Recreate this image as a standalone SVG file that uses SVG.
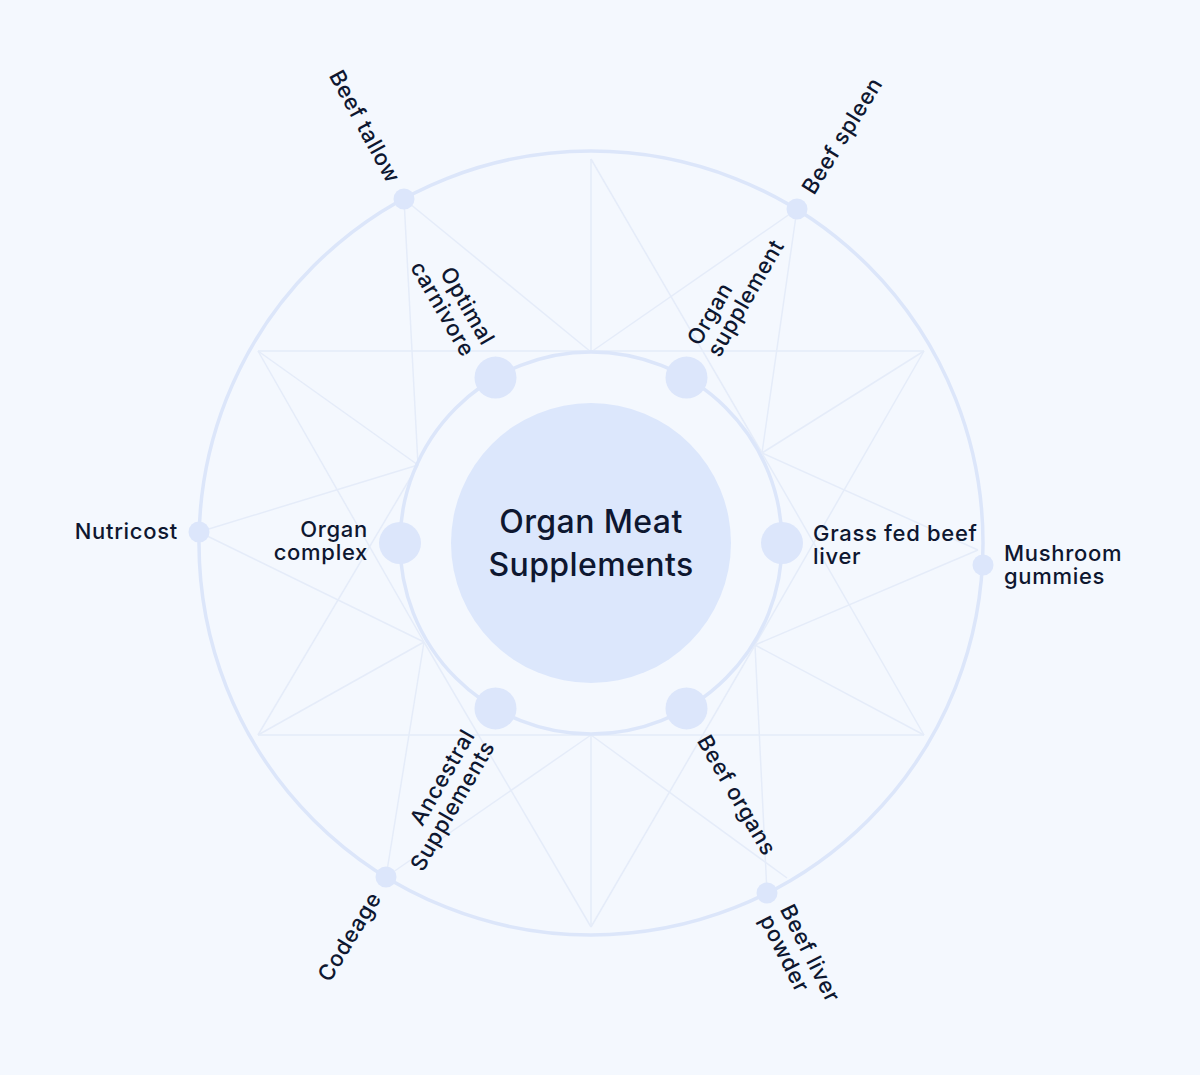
<svg xmlns="http://www.w3.org/2000/svg" width="1200" height="1075" viewBox="0 0 1200 1075">
  <style>
    .bg { fill: #F4F8FE; }
    .ring { fill: none; stroke: #DCE6FA; stroke-width: 3.5; }
    .deco { stroke: #E5ECF9; stroke-width: 1.5; fill: none; }
    .hub { fill: #DCE7FC; }
    .inner { fill: #DCE6FB; }
    .outer { fill: #DCE6FB; }
    .lbl { font-family: Inter, "Noto Sans", "DejaVu Sans", sans-serif; font-size: 22px; font-weight: 500; fill: #0E1730; letter-spacing: 0.7px; }
    .hubtxt { font-family: Inter, "Noto Sans", "DejaVu Sans", sans-serif; font-size: 32px; font-weight: 500; fill: #0E1730; text-anchor: middle; letter-spacing: 0.4px; }
    .end { text-anchor: end; }
    .start { text-anchor: start; }
  </style>
  <rect class="bg" x="0" y="0" width="1200" height="1075"/>

  <g id="connectors">
    <line class="deco" x1="404" y1="199" x2="591" y2="352"/>
    <line class="deco" x1="404" y1="199" x2="418" y2="465"/>
    <line class="deco" x1="797" y1="209" x2="591" y2="352"/>
    <line class="deco" x1="797" y1="209" x2="762" y2="453"/>
    <line class="deco" x1="978" y1="550" x2="762" y2="453"/>
    <line class="deco" x1="978" y1="550" x2="755" y2="645"/>
    <line class="deco" x1="767" y1="893" x2="755" y2="645"/>
    <line class="deco" x1="787" y1="878" x2="591" y2="735"/>
    <line class="deco" x1="386" y1="877" x2="591" y2="735"/>
    <line class="deco" x1="386" y1="877" x2="424" y2="642"/>
    <line class="deco" x1="199" y1="532" x2="424" y2="642"/>
    <line class="deco" x1="199" y1="532" x2="418" y2="465"/>
    <line class="deco" x1="591" y1="159" x2="591" y2="352"/>
    <line class="deco" x1="591" y1="159" x2="762" y2="453"/>
    <line class="deco" x1="924" y1="351" x2="762" y2="453"/>
    <line class="deco" x1="924" y1="351" x2="755" y2="645"/>
    <line class="deco" x1="924" y1="735" x2="755" y2="645"/>
    <line class="deco" x1="924" y1="735" x2="762" y2="453"/>
    <line class="deco" x1="591" y1="927" x2="591" y2="735"/>
    <line class="deco" x1="591" y1="927" x2="755" y2="645"/>
    <line class="deco" x1="591" y1="927" x2="424" y2="642"/>
    <line class="deco" x1="258" y1="735" x2="424" y2="642"/>
    <line class="deco" x1="258" y1="735" x2="418" y2="465"/>
    <line class="deco" x1="258" y1="351" x2="418" y2="465"/>
    <line class="deco" x1="258" y1="351" x2="424" y2="642"/>
    <line class="deco" x1="258" y1="351" x2="924" y2="351"/>
    <line class="deco" x1="258" y1="735" x2="924" y2="735"/>
    <circle class="ring" cx="591" cy="543" r="392"/>
    <circle class="ring" cx="591" cy="543" r="191"/>
  </g>

  <g id="hub">
    <circle class="hub" cx="591" cy="543" r="140"/>
    <text class="hubtxt" x="591" y="533">Organ Meat</text>
    <text class="hubtxt" x="591" y="576">Supplements</text>
  </g>

  <g id="optimal-carnivore">
    <circle class="inner" cx="495.5" cy="377.6" r="21"/>
    <g transform="translate(479,349) rotate(60)">
      <text class="lbl end" x="0" y="-4">Optimal</text>
      <text class="lbl end" x="0" y="19">carnivore</text>
    </g>
  </g>
  <g id="organ-supplement">
    <circle class="inner" cx="686.5" cy="377.6" r="21"/>
    <g transform="translate(703,349) rotate(-60)">
      <text class="lbl start" x="0" y="-4">Organ</text>
      <text class="lbl start" x="0" y="19">supplement</text>
    </g>
  </g>
  <g id="grass-fed-beef-liver">
    <circle class="inner" cx="782" cy="543" r="21"/>
    <text class="lbl start" x="813" y="541">Grass fed beef</text>
    <text class="lbl start" x="813" y="564">liver</text>
  </g>
  <g id="beef-organs">
    <circle class="inner" cx="686.5" cy="708.4" r="21"/>
    <g transform="translate(703,737) rotate(60)">
      <text class="lbl start" x="0" y="7.5">Beef organs</text>
    </g>
  </g>
  <g id="ancestral-supplements">
    <circle class="inner" cx="495.5" cy="708.4" r="21"/>
    <g transform="translate(479,737) rotate(-60)">
      <text class="lbl end" x="0" y="-4">Ancestral</text>
      <text class="lbl end" x="0" y="19">Supplements</text>
    </g>
  </g>
  <g id="organ-complex">
    <circle class="inner" cx="400" cy="543" r="21"/>
    <text class="lbl end" x="368" y="537">Organ</text>
    <text class="lbl end" x="368" y="560">complex</text>
  </g>

  <g id="beef-tallow">
    <circle class="outer" cx="404" cy="199" r="10.5"/>
    <g transform="translate(394.5,181.4) rotate(61.5)">
      <text class="lbl end" x="0" y="7.5">Beef tallow</text>
    </g>
  </g>
  <g id="beef-spleen">
    <circle class="outer" cx="797" cy="209" r="10.5"/>
    <g transform="translate(807.5,192) rotate(-58.3)">
      <text class="lbl start" x="0" y="7.5">Beef spleen</text>
    </g>
  </g>
  <g id="mushroom-gummies">
    <circle class="outer" cx="983" cy="565" r="10.5"/>
    <text class="lbl start" x="1004" y="561">Mushroom</text>
    <text class="lbl start" x="1004" y="584">gummies</text>
  </g>
  <g id="beef-liver-powder">
    <circle class="outer" cx="767" cy="893" r="10.5"/>
    <g transform="translate(776,911) rotate(63.3)">
      <text class="lbl start" x="0" y="-4">Beef liver</text>
      <text class="lbl start" x="0" y="19">powder</text>
    </g>
  </g>
  <g id="codeage">
    <circle class="outer" cx="386" cy="877" r="10.5"/>
    <g transform="translate(375.6,894) rotate(-58.5)">
      <text class="lbl end" x="0" y="7.5">Codeage</text>
    </g>
  </g>
  <g id="nutricost">
    <circle class="outer" cx="199" cy="532" r="10.5"/>
    <text class="lbl end" x="178" y="539">Nutricost</text>
  </g>
</svg>
